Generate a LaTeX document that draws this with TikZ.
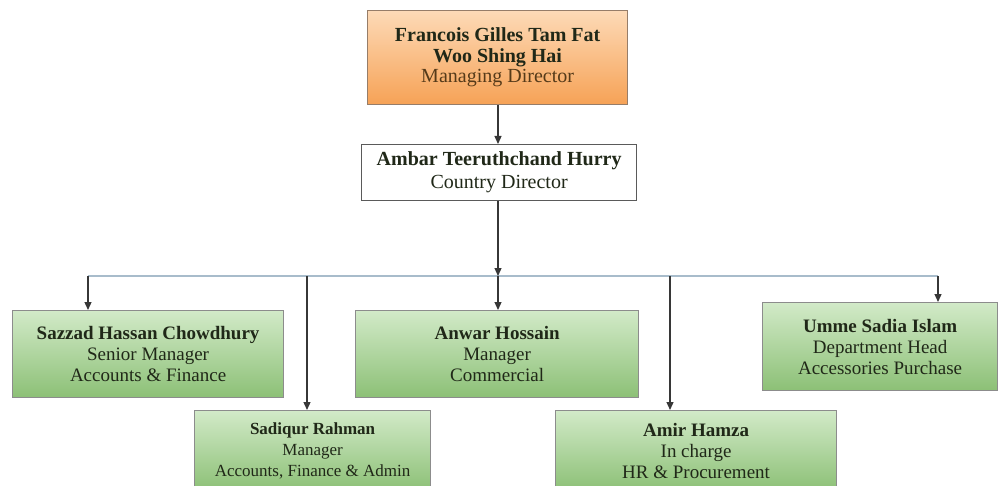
\documentclass[tikz,border=0pt]{standalone}
\usepackage{fontspec}
\setmainfont{Liberation Serif}
\usetikzlibrary{arrows.meta}

\begin{document}
\begin{tikzpicture}[x=1pt,y=-1pt,
    box/.style={draw=boxgray,line width=1.2pt,align=center,inner sep=0pt,anchor=north west,text=textdark},
    orangebox/.style={box,draw=orangeline,top color=orangetop,bottom color=orangebot,font=\fontsize{20}{20.5}\selectfont},
    whitebox/.style={box,draw=darkline,fill=white,font=\fontsize{20}{23}\selectfont},
    greenbox/.style={box,top color=greentop,bottom color=greenbot,font=\fontsize{19}{21}\selectfont},
    pfeil/.style={draw=arrowgray,line width=1.3pt,-{Triangle[length=8pt,width=7pt]}},
    leiste/.style={draw=barblue,line width=1.5pt}]

\definecolor{orangetop}{RGB}{253,218,183}
\definecolor{orangebot}{RGB}{246,162,86}
\definecolor{orangeline}{RGB}{150,125,105}
\definecolor{greentop}{RGB}{210,234,200}
\definecolor{greenbot}{RGB}{140,192,118}
\definecolor{boxgray}{RGB}{140,140,140}
\definecolor{darkline}{RGB}{90,90,90}
\definecolor{arrowgray}{RGB}{55,55,55}
\definecolor{barblue}{RGB}{168,188,203}
\definecolor{textdark}{RGB}{32,40,24}
\definecolor{titlebrown}{RGB}{85,58,25}

    %Rahmen
    \useasboundingbox (0,0) rectangle (1000,486);

    %Leitung
    \node[orangebox,minimum width=260,minimum height=94] (md) at (367,10)
        {\textbf{Francois Gilles Tam Fat}\\\textbf{Woo Shing Hai}\\\textcolor{titlebrown}{Managing Director}};
    \node[whitebox,minimum width=275,minimum height=56] (cd) at (361,144)
        {\textbf{Ambar Teeruthchand Hurry}\\Country Director};

    %Abteilungen
    \node[greenbox,minimum width=271,minimum height=87] (sh) at (12,310)
        {\textbf{Sazzad Hassan Chowdhury}\\Senior Manager\\Accounts \& Finance};
    \node[greenbox,font=\fontsize{17}{21}\selectfont,minimum width=236,minimum height=80] (sr) at (194,410)
        {\textbf{Sadiqur Rahman}\\Manager\\Accounts, Finance \& Admin};
    \node[greenbox,minimum width=283,minimum height=87] (ah) at (355,310)
        {\textbf{Anwar Hossain}\\Manager\\Commercial};
    \node[greenbox,minimum width=281,minimum height=80] (am) at (555,410)
        {\textbf{Amir Hamza}\\In charge\\HR \& Procurement};
    \node[greenbox,minimum width=235,minimum height=88] (us) at (762,302)
        {\textbf{Umme Sadia Islam}\\Department Head\\Accessories Purchase};

    %Verbindungen
    \coordinate (mitte) at (498,276);
    \coordinate (l1) at (88,276);
    \coordinate (l2) at (307,276);
    \coordinate (r1) at (670,276);
    \coordinate (r2) at (938,276);

    \path[leiste] (l1) -- (r2);
    \draw[pfeil] (md.south -| mitte) -- (cd.north -| mitte);
    \draw[pfeil] (cd.south -| mitte) -- (mitte);
    \draw[pfeil] (mitte) -- (ah.north -| mitte);
    \draw[pfeil] (l1) -- (sh.north -| l1);
    \draw[pfeil] (l2) -- (sr.north -| l2);
    \draw[pfeil] (r1) -- (am.north -| r1);
    \draw[pfeil] (r2) -- (us.north -| r2);

\end{tikzpicture}
\end{document}
